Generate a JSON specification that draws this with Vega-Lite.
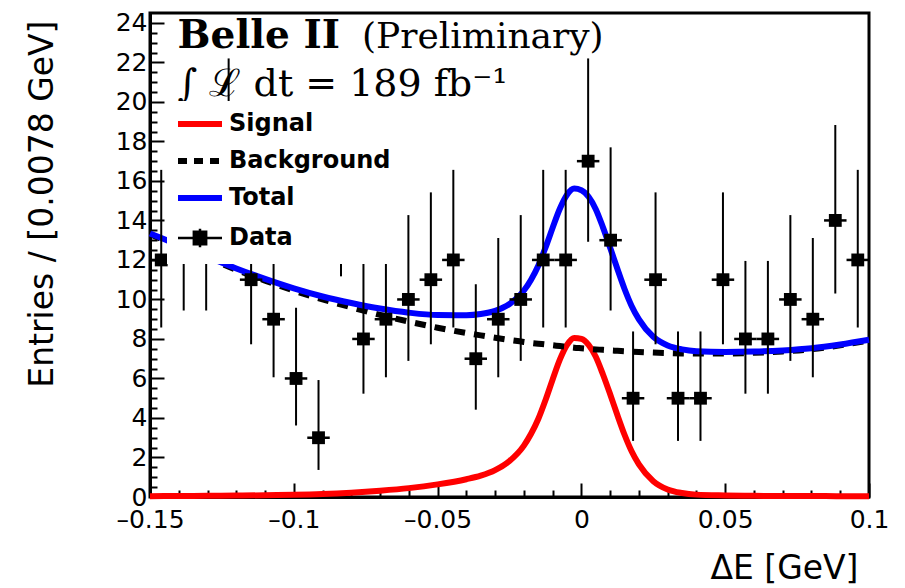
{
  "$schema": "https://vega.github.io/schema/vega-lite/v6.json",
  "width": 719,
  "height": 484,
  "autosize": {"type": "none"},
  "padding": {"left": 150, "top": 13, "right": 36, "bottom": 91},
  "background": "white",
  "config": {
    "view": {"stroke": "black", "strokeWidth": 3},
    "axis": {
      "domainColor": "black", "domainWidth": 3,
      "tickColor": "black", "tickWidth": 2,
      "labelFont": "DejaVu Sans", "labelFontSize": 25, "labelColor": "black",
      "titleFont": "DejaVu Sans", "titleFontSize": 33, "titleFontWeight": "normal", "titleColor": "black",
      "grid": false, "labelOverlap": false, "labelFlush": false
    }
  },
  "resolve": {"axis": {"x": "independent", "y": "independent"}},
  "datasets": {
    "curves": [
      {"x": -0.15, "Signal": 0.04, "Background": 13.3, "Total": 13.34},
      {"x": -0.14, "Signal": 0.05, "Background": 12.7, "Total": 12.75},
      {"x": -0.13, "Signal": 0.06, "Background": 12.1, "Total": 12.16},
      {"x": -0.12, "Signal": 0.07, "Background": 11.5, "Total": 11.57},
      {"x": -0.11, "Signal": 0.09, "Background": 10.95, "Total": 11.04},
      {"x": -0.10, "Signal": 0.11, "Background": 10.45, "Total": 10.56},
      {"x": -0.09, "Signal": 0.15, "Background": 10.0, "Total": 10.15},
      {"x": -0.08, "Signal": 0.22, "Background": 9.6, "Total": 9.82},
      {"x": -0.07, "Signal": 0.32, "Background": 9.22, "Total": 9.54},
      {"x": -0.06, "Signal": 0.45, "Background": 8.88, "Total": 9.33},
      {"x": -0.05, "Signal": 0.64, "Background": 8.57, "Total": 9.21},
      {"x": -0.04, "Signal": 0.9, "Background": 8.3, "Total": 9.2},
      {"x": -0.035, "Signal": 1.08, "Background": 8.18, "Total": 9.26},
      {"x": -0.03, "Signal": 1.36, "Background": 8.06, "Total": 9.42},
      {"x": -0.025, "Signal": 1.82, "Background": 7.95, "Total": 9.77},
      {"x": -0.02, "Signal": 2.6, "Background": 7.85, "Total": 10.45},
      {"x": -0.0175, "Signal": 3.2, "Background": 7.8, "Total": 11.0},
      {"x": -0.015, "Signal": 3.95, "Background": 7.76, "Total": 11.71},
      {"x": -0.0125, "Signal": 4.9, "Background": 7.72, "Total": 12.62},
      {"x": -0.01, "Signal": 5.95, "Background": 7.68, "Total": 13.63},
      {"x": -0.0075, "Signal": 6.95, "Background": 7.64, "Total": 14.59},
      {"x": -0.005, "Signal": 7.7, "Background": 7.6, "Total": 15.3},
      {"x": -0.0025, "Signal": 8.05, "Background": 7.56, "Total": 15.61},
      {"x": 0.0, "Signal": 8.0, "Background": 7.53, "Total": 15.53},
      {"x": 0.0025, "Signal": 7.7, "Background": 7.5, "Total": 15.2},
      {"x": 0.005, "Signal": 7.1, "Background": 7.47, "Total": 14.57},
      {"x": 0.0075, "Signal": 6.2, "Background": 7.45, "Total": 13.65},
      {"x": 0.01, "Signal": 5.2, "Background": 7.42, "Total": 12.62},
      {"x": 0.0125, "Signal": 4.15, "Background": 7.4, "Total": 11.55},
      {"x": 0.015, "Signal": 3.15, "Background": 7.38, "Total": 10.53},
      {"x": 0.0175, "Signal": 2.3, "Background": 7.36, "Total": 9.66},
      {"x": 0.02, "Signal": 1.65, "Background": 7.34, "Total": 8.99},
      {"x": 0.025, "Signal": 0.8, "Background": 7.31, "Total": 8.11},
      {"x": 0.03, "Signal": 0.38, "Background": 7.29, "Total": 7.67},
      {"x": 0.035, "Signal": 0.2, "Background": 7.27, "Total": 7.47},
      {"x": 0.04, "Signal": 0.12, "Background": 7.26, "Total": 7.38},
      {"x": 0.05, "Signal": 0.08, "Background": 7.26, "Total": 7.34},
      {"x": 0.06, "Signal": 0.06, "Background": 7.3, "Total": 7.36},
      {"x": 0.07, "Signal": 0.05, "Background": 7.37, "Total": 7.42},
      {"x": 0.08, "Signal": 0.05, "Background": 7.48, "Total": 7.53},
      {"x": 0.09, "Signal": 0.04, "Background": 7.68, "Total": 7.72},
      {"x": 0.10, "Signal": 0.04, "Background": 7.92, "Total": 7.96}
    ],
    "points": [
      {"x": -0.146094, "xlo": -0.15, "xhi": -0.142188, "n": 12, "lo": 8.58, "hi": 16.56},
      {"x": -0.138281, "xlo": -0.142188, "xhi": -0.134375, "n": 13, "lo": 9.44, "hi": 17.70},
      {"x": -0.130469, "xlo": -0.134375, "xhi": -0.126563, "n": 13, "lo": 9.44, "hi": 17.70},
      {"x": -0.122656, "xlo": -0.126563, "xhi": -0.11875, "n": 17, "lo": 12.92, "hi": 22.20},
      {"x": -0.114844, "xlo": -0.11875, "xhi": -0.110938, "n": 11, "lo": 7.73, "hi": 15.42},
      {"x": -0.107031, "xlo": -0.110938, "xhi": -0.103125, "n": 9, "lo": 6.06, "hi": 13.11},
      {"x": -0.099219, "xlo": -0.103125, "xhi": -0.095313, "n": 6, "lo": 3.62, "hi": 9.58},
      {"x": -0.091406, "xlo": -0.095313, "xhi": -0.0875, "n": 3, "lo": 1.37, "hi": 5.92},
      {"x": -0.083594, "xlo": -0.0875, "xhi": -0.079688, "n": 15, "lo": 11.17, "hi": 19.96},
      {"x": -0.075781, "xlo": -0.079688, "xhi": -0.071875, "n": 8, "lo": 5.23, "hi": 11.95},
      {"x": -0.067969, "xlo": -0.071875, "xhi": -0.064063, "n": 9, "lo": 6.06, "hi": 13.11},
      {"x": -0.060156, "xlo": -0.064063, "xhi": -0.05625, "n": 10, "lo": 6.89, "hi": 14.27},
      {"x": -0.052344, "xlo": -0.05625, "xhi": -0.048438, "n": 11, "lo": 7.73, "hi": 15.42},
      {"x": -0.044531, "xlo": -0.048438, "xhi": -0.040625, "n": 12, "lo": 8.58, "hi": 16.56},
      {"x": -0.036719, "xlo": -0.040625, "xhi": -0.032813, "n": 7, "lo": 4.42, "hi": 10.77},
      {"x": -0.028906, "xlo": -0.032813, "xhi": -0.025, "n": 9, "lo": 6.06, "hi": 13.11},
      {"x": -0.021094, "xlo": -0.025, "xhi": -0.017188, "n": 10, "lo": 6.89, "hi": 14.27},
      {"x": -0.013281, "xlo": -0.017188, "xhi": -0.009375, "n": 12, "lo": 8.58, "hi": 16.56},
      {"x": -0.005469, "xlo": -0.009375, "xhi": -0.001563, "n": 12, "lo": 8.58, "hi": 16.56},
      {"x": 0.002344, "xlo": -0.001563, "xhi": 0.00625, "n": 17, "lo": 12.92, "hi": 22.20},
      {"x": 0.010156, "xlo": 0.00625, "xhi": 0.014063, "n": 13, "lo": 9.44, "hi": 17.70},
      {"x": 0.017969, "xlo": 0.014063, "xhi": 0.021875, "n": 5, "lo": 2.84, "hi": 8.38},
      {"x": 0.025781, "xlo": 0.021875, "xhi": 0.029688, "n": 11, "lo": 7.73, "hi": 15.42},
      {"x": 0.033594, "xlo": 0.029688, "xhi": 0.0375, "n": 5, "lo": 2.84, "hi": 8.38},
      {"x": 0.041406, "xlo": 0.0375, "xhi": 0.045313, "n": 5, "lo": 2.84, "hi": 8.38},
      {"x": 0.049219, "xlo": 0.045313, "xhi": 0.053125, "n": 11, "lo": 7.73, "hi": 15.42},
      {"x": 0.057031, "xlo": 0.053125, "xhi": 0.060938, "n": 8, "lo": 5.23, "hi": 11.95},
      {"x": 0.064844, "xlo": 0.060938, "xhi": 0.06875, "n": 8, "lo": 5.23, "hi": 11.95},
      {"x": 0.072656, "xlo": 0.06875, "xhi": 0.076563, "n": 10, "lo": 6.89, "hi": 14.27},
      {"x": 0.080469, "xlo": 0.076563, "xhi": 0.084375, "n": 9, "lo": 6.06, "hi": 13.11},
      {"x": 0.088281, "xlo": 0.084375, "xhi": 0.092188, "n": 14, "lo": 10.30, "hi": 18.83},
      {"x": 0.096094, "xlo": 0.092188, "xhi": 0.1, "n": 12, "lo": 8.58, "hi": 16.56}
    ]
  },
  "layer": [
    {
      "data": {"name": "curves"},
      "transform": [{"fold": ["Signal", "Background", "Total"], "as": ["comp", "val"]}],
      "encoding": {
        "x": {
          "field": "x", "type": "quantitative",
          "scale": {"domain": [-0.15, 0.1], "nice": false, "zero": false},
          "axis": {
            "orient": "bottom",
            "title": "ΔE [GeV]",
            "titleX": 708, "titleY": 81, "titleAlign": "right", "titleBaseline": "alphabetic", "titleAnchor": null,
            "values": [-0.15, -0.1, -0.05, 0, 0.05, 0.1],
            "labelExpr": "replace(replace(format(datum.value, '~g'), '−', '–'), '-', '–')",
            "tickSize": -14,
            "labelPadding": 24
          }
        },
        "y": {
          "field": "val", "type": "quantitative",
          "scale": {"domain": [0, 24.5], "nice": false, "zero": true},
          "axis": {
            "orient": "left",
            "title": "Entries / [0.0078 GeV]",
            "titleX": -98, "titleY": 7, "titleAlign": "right", "titleBaseline": "alphabetic", "titleAngle": -90, "titleAnchor": null,
            "values": [0, 2, 4, 6, 8, 10, 12, 14, 16, 18, 20, 22, 24],
            "labelExpr": "format(datum.value, '~g')",
            "tickSize": -14,
            "labelPadding": 17
          }
        },
        "color": {
          "field": "comp", "type": "nominal",
          "scale": {"domain": ["Signal", "Background", "Total", "Data"], "range": ["#ff0000", "#000000", "#0000ff", "#000000"]},
          "legend": {
            "title": null, "orient": "none", "legendX": 17, "legendY": 88,
            "fillColor": "white", "padding": 11,
            "labelFont": "DejaVu Sans", "labelFontSize": 24, "labelFontWeight": "bold", "labelColor": "black", "labelLimit": 400,
            "symbolType": "stroke", "symbolSize": 1936, "symbolStrokeWidth": 6,
            "symbolOffset": 10,
            "labelOffset": 17, "rowPadding": 13,
            "encode": {
              "symbols": {
                "update": {
                  "shape": {"signal": "datum.value === 'Data' ? 'M-1,0H1M0,-0.42V0.42M-0.28,-0.28H0.28V0.28H-0.28Z' : 'stroke'"},
                  "strokeDash": {"signal": "datum.value === 'Background' ? [9,7] : [1,0]"},
                  "fill": {"signal": "datum.value === 'Data' ? 'black' : 'transparent'"},
                  "strokeWidth": {"signal": "datum.value === 'Data' ? 2.5 : 6"},
                  "opacity": {"value": 1}
                }
              }
            }
          }
        }
      },
      "layer": [
        {"transform": [{"filter": "datum.comp === 'Signal'"}], "mark": {"type": "line", "strokeWidth": 6, "interpolate": "monotone"}},
        {"transform": [{"filter": "datum.comp === 'Background'"}], "mark": {"type": "line", "strokeWidth": 6, "strokeDash": [11, 9], "interpolate": "monotone"}},
        {"transform": [{"filter": "datum.comp === 'Total'"}], "mark": {"type": "line", "strokeWidth": 6, "interpolate": "monotone"}}
      ]
    },
    {
      "data": {"name": "points"},
      "mark": {"type": "rule", "color": "black", "strokeWidth": 2},
      "encoding": {
        "x": {
          "field": "x", "type": "quantitative",
          "axis": {
            "orient": "bottom", "title": null, "labels": false, "domain": false, "tickSize": -7,
            "values": [-0.14, -0.13, -0.12, -0.11, -0.09, -0.08, -0.07, -0.06, -0.04, -0.03, -0.02, -0.01, 0.01, 0.02, 0.03, 0.04, 0.06, 0.07, 0.08, 0.09]
          }
        },
        "y": {
          "field": "lo", "type": "quantitative",
          "axis": {
            "orient": "left", "title": null, "labels": false, "domain": false, "tickSize": -7,
            "values": [0.5, 1, 1.5, 2.5, 3, 3.5, 4.5, 5, 5.5, 6.5, 7, 7.5, 8.5, 9, 9.5, 10.5, 11, 11.5, 12.5, 13, 13.5, 14.5, 15, 15.5, 16.5, 17, 17.5, 18.5, 19, 19.5, 20.5, 21, 21.5, 22.5, 23, 23.5]
          }
        },
        "y2": {"field": "hi"}
      }
    },
    {
      "data": {"name": "points"},
      "mark": {"type": "rule", "color": "black", "strokeWidth": 2.5},
      "encoding": {
        "x": {"field": "xlo", "type": "quantitative", "axis": null},
        "x2": {"field": "xhi"},
        "y": {"field": "n", "type": "quantitative", "axis": null}
      }
    },
    {
      "data": {"name": "points"},
      "mark": {"type": "point", "shape": "square", "filled": true, "color": "black", "size": 165, "opacity": 1},
      "encoding": {
        "x": {"field": "x", "type": "quantitative", "axis": null},
        "y": {"field": "n", "type": "quantitative", "axis": null}
      }
    },
    {
      "data": {"values": [{"t": "Belle II"}]},
      "mark": {"type": "text", "font": "DejaVu Serif", "fontSize": 39, "fontWeight": "bold", "align": "left", "baseline": "alphabetic", "color": "black"},
      "encoding": {"x": {"datum": -0.1404, "axis": null}, "y": {"datum": 22.75, "axis": null}, "text": {"field": "t"}}
    },
    {
      "data": {"values": [{"t": "(Preliminary)"}]},
      "mark": {"type": "text", "font": "DejaVu Serif", "fontSize": 36, "align": "left", "baseline": "alphabetic", "color": "black"},
      "encoding": {"x": {"datum": -0.0763, "axis": null}, "y": {"datum": 22.75, "axis": null}, "text": {"field": "t"}}
    },
    {
      "data": {"values": [{"t": "∫ ℒ dt = 189 fb⁻¹"}]},
      "mark": {"type": "text", "font": "DejaVu Serif", "fontSize": 38, "align": "left", "baseline": "alphabetic", "color": "black"},
      "encoding": {"x": {"datum": -0.1404, "axis": null}, "y": {"datum": 20.28, "axis": null}, "text": {"field": "t"}}
    }
  ]
}
